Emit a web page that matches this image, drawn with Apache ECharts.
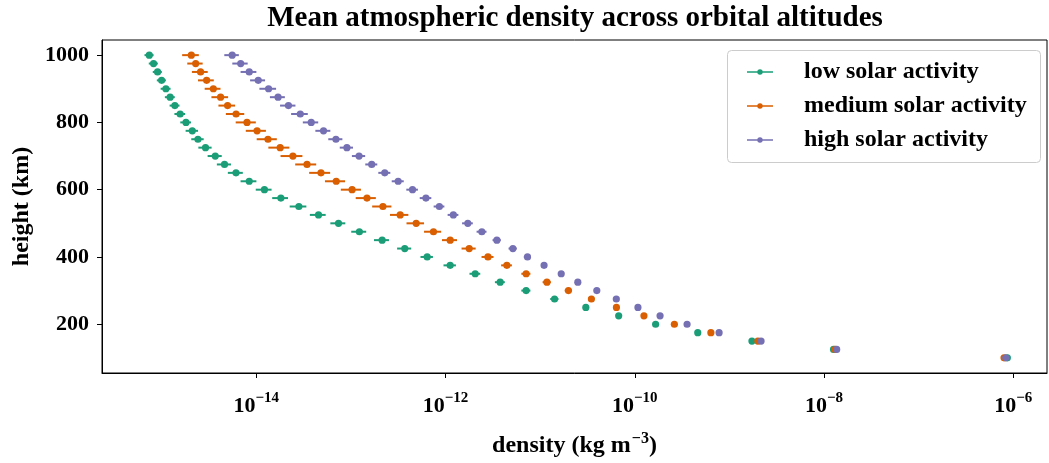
<!DOCTYPE html>
<html>
<head>
<meta charset="utf-8">
<script src="https://cdn.jsdelivr.net/npm/echarts@6/dist/echarts.min.js"></script>
<style>
  html, body { margin: 0; padding: 0; background: #ffffff; }
  #chart { width: 1049px; height: 463px; }
</style>
</head>
<body>
<div id="chart"></div>
<script>
// Altitude grid (km), top of the profile first
const heights = [1000, 975, 950, 925, 900, 875, 850, 825, 800, 775, 750, 725, 700,
  675, 650, 625, 600, 575, 550, 525, 500, 475, 450, 425, 400, 375, 350, 325, 300,
  275, 250, 225, 200, 175, 150, 125, 100];

// Mean density (kg m^-3) per altitude
const lowDensity = [7.41e-16, 8.22e-16, 9.06e-16, 1.00e-15, 1.11e-15, 1.23e-15, 1.38e-15,
  1.57e-15, 1.81e-15, 2.11e-15, 2.42e-15, 2.91e-15, 3.69e-15, 4.62e-15, 6.11e-15, 8.43e-15,
  1.22e-14, 1.82e-14, 2.82e-14, 4.55e-14, 7.40e-14, 1.23e-13, 2.14e-13, 3.71e-13, 6.40e-13,
  1.12e-12, 2.06e-12, 3.78e-12, 7.11e-12, 1.42e-11, 3.04e-11, 6.76e-11, 1.66e-10, 4.63e-10,
  1.73e-9, 1.26e-8, 8.65e-7];
const mediumDensity = [2.06e-15, 2.29e-15, 2.58e-15, 2.99e-15, 3.52e-15, 4.20e-15, 4.98e-15,
  6.12e-15, 7.98e-15, 1.02e-14, 1.33e-14, 1.79e-14, 2.44e-14, 3.44e-14, 4.83e-14, 7.00e-14,
  1.03e-13, 1.48e-13, 2.18e-13, 3.32e-13, 4.90e-13, 7.46e-13, 1.12e-12, 1.78e-12, 2.81e-12,
  4.45e-12, 7.11e-12, 1.18e-11, 1.99e-11, 3.48e-11, 6.40e-11, 1.25e-10, 2.62e-10, 6.37e-10,
  2.00e-9, 1.31e-8, 7.98e-7];
const highDensity = [5.57e-15, 6.85e-15, 8.43e-15, 1.05e-14, 1.35e-14, 1.70e-14, 2.19e-14,
  2.92e-14, 3.81e-14, 5.14e-14, 6.95e-14, 9.08e-14, 1.22e-13, 1.66e-13, 2.28e-13, 3.16e-13,
  4.48e-13, 6.21e-13, 8.61e-13, 1.21e-12, 1.72e-12, 2.42e-12, 3.49e-12, 5.15e-12, 7.35e-12,
  1.10e-11, 1.67e-11, 2.50e-11, 3.97e-11, 6.38e-11, 1.08e-10, 1.85e-10, 3.57e-10, 7.78e-10,
  2.16e-9, 1.36e-8, 8.32e-7];

// Standard deviation relative to the mean at each altitude
const lowRelStd = [0.11, 0.11, 0.11, 0.11, 0.12, 0.12, 0.12, 0.13, 0.13, 0.15, 0.15, 0.16,
  0.17, 0.17, 0.18, 0.19, 0.19, 0.19, 0.20, 0.19, 0.18, 0.18, 0.18, 0.17, 0.15, 0.15, 0.13,
  0.12, 0.11, 0.10, 0.07, 0.06, 0.05, 0.05, 0.04, 0.04, 0.03];
const mediumRelStd = [0.20, 0.185, 0.19, 0.19, 0.19, 0.20, 0.20, 0.22, 0.24, 0.24, 0.24, 0.25,
  0.26, 0.25, 0.25, 0.24, 0.24, 0.24, 0.23, 0.22, 0.21, 0.205, 0.18, 0.17, 0.145, 0.13, 0.11,
  0.10, 0.085, 0.07, 0.06, 0.05, 0.05, 0.04, 0.04, 0.03, 0.03];
const highRelStd = [0.175, 0.185, 0.19, 0.18, 0.20, 0.18, 0.185, 0.20, 0.185, 0.18, 0.17, 0.16,
  0.16, 0.145, 0.145, 0.145, 0.14, 0.14, 0.13, 0.13, 0.13, 0.12, 0.10, 0.10, 0.085, 0.07, 0.06,
  0.06, 0.05, 0.05, 0.04, 0.04, 0.04, 0.03, 0.03, 0.03, 0.03];

const seriesNames = ['low solar activity', 'medium solar activity', 'high solar activity'];
const seriesColors = ['#1b9e77', '#d95f02', '#7570b3'];

const xTickValues = [1e-14, 1e-12, 1e-10, 1e-8, 1e-6];
const yTickValues = [200, 400, 600, 800, 1000];

const FONT = "'Liberation Serif', 'Times New Roman', serif";

function buildRows(means, rel) {
  return means.map((m, i) => [m, m * (1 - rel[i]), m * (1 + rel[i]), heights[i]]);
}

function errorBarSeries(name, color, rows) {
  return {
    name: name,
    type: 'custom',
    color: color,
    itemStyle: { color: color },
    encode: { x: [0, 1, 2], y: 3 },
    data: rows,
    renderItem: function (params, api) {
      const h = api.value(3);
      const c = api.coord([api.value(0), h]);
      const a = api.coord([api.value(1), h]);
      const b = api.coord([api.value(2), h]);
      return {
        type: 'group',
        children: [
          { type: 'line', shape: { x1: a[0], y1: c[1], x2: b[0], y2: c[1] },
            style: { stroke: color, lineWidth: 2 } },
          { type: 'circle', shape: { cx: c[0], cy: c[1], r: 3.6 },
            style: { fill: color } }
        ]
      };
    }
  };
}

const legendIcon = 'path://M0,2.2H26V3.8H0Z M13,0.3A2.7,2.7,0,1,1,12.99,0.3Z';

const chart = echarts.init(document.getElementById('chart'), null, { renderer: 'canvas' });

chart.setOption({
  animation: false,
  backgroundColor: '#ffffff',
  color: seriesColors,
  grid: {
    left: 102, right: 2, top: 40, bottom: 84,
    show: true, borderColor: '#000000', borderWidth: 1, backgroundColor: 'transparent'
  },
  graphic: [
    {
      type: 'text', x: 575, y: 19, z: 10,
      style: {
        text: 'Mean atmospheric density across orbital altitudes',
        font: 'bold 29px ' + FONT, fill: '#000000',
        textAlign: 'center', textVerticalAlign: 'middle'
      }
    },
    {
      type: 'rect', z: 5,
      shape: { x: 727.5, y: 50.5, width: 313, height: 112, r: 4 },
      style: { fill: 'rgba(255,255,255,0.8)', stroke: '#cccccc', lineWidth: 1 }
    }
  ],
  legend: {
    orient: 'vertical',
    left: 747, top: 60,
    padding: 0,
    itemWidth: 26, itemHeight: 6,
    itemGap: 10,
    z: 20,
    data: seriesNames.map((n, i) => ({ name: n, icon: legendIcon, itemStyle: { color: seriesColors[i] } })),
    textStyle: {
      fontFamily: FONT, fontWeight: 'bold', fontSize: 24, color: '#000000',
      lineHeight: 24, padding: [0, 0, 0, 26]
    }
  },
  xAxis: {
    type: 'log',
    logBase: 10,
    min: Math.pow(10, -15.63),
    max: Math.pow(10, -5.644),
    name: '{a|density (kg m}{s|\u22123}{a|)}',
    nameLocation: 'middle',
    nameGap: 57,
    nameTextStyle: {
      rich: {
        a: { fontFamily: FONT, fontWeight: 'bold', fontSize: 24, color: '#000', verticalAlign: 'bottom', lineHeight: 28 },
        s: { fontFamily: FONT, fontWeight: 'bold', fontSize: 16, color: '#000', verticalAlign: 'bottom', lineHeight: 28, padding: [0, 0, 11, 1] }
      }
    },
    axisLine: { show: true, lineStyle: { color: '#000000', width: 1 } },
    axisTick: { show: true, inside: false, length: 5, lineStyle: { color: '#000000' }, customValues: xTickValues },
    splitLine: { show: false },
    minorTick: { show: false },
    axisLabel: {
      customValues: xTickValues,
      margin: 14,
      formatter: function (v) {
        const e = Math.round(Math.log10(v));
        return '{b|10}{s|\u2212' + Math.abs(e) + '}';
      },
      rich: {
        b: { fontFamily: FONT, fontWeight: 'bold', fontSize: 22, color: '#000', verticalAlign: 'bottom', lineHeight: 30 },
        s: { fontFamily: FONT, fontWeight: 'bold', fontSize: 15, color: '#000', verticalAlign: 'bottom', lineHeight: 30, padding: [0, 0, 11, 0] }
      }
    }
  },
  yAxis: {
    type: 'value',
    min: 55,
    max: 1045,
    name: 'height (km)',
    nameLocation: 'middle',
    nameRotate: 90,
    nameGap: 67,
    nameTextStyle: { fontFamily: FONT, fontWeight: 'bold', fontSize: 24, color: '#000000' },
    axisLine: { show: true, lineStyle: { color: '#000000', width: 1 } },
    axisTick: { show: true, inside: false, length: 5, lineStyle: { color: '#000000' }, customValues: yTickValues },
    splitLine: { show: false },
    axisLabel: {
      customValues: yTickValues,
      margin: 13,
      formatter: function (v) { return String(v); },
      fontFamily: FONT, fontWeight: 'bold', fontSize: 22, color: '#000000'
    }
  },
  series: [
    errorBarSeries(seriesNames[0], seriesColors[0], buildRows(lowDensity, lowRelStd)),
    errorBarSeries(seriesNames[1], seriesColors[1], buildRows(mediumDensity, mediumRelStd)),
    errorBarSeries(seriesNames[2], seriesColors[2], buildRows(highDensity, highRelStd))
  ]
});
</script>
</body>
</html>
